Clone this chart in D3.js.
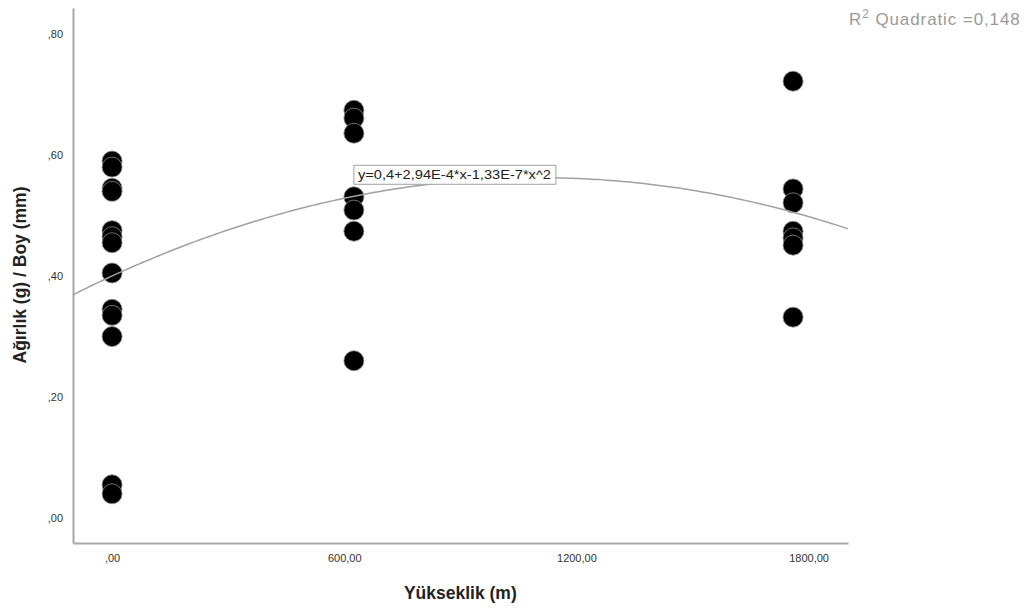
<!DOCTYPE html>
<html>
<head>
<meta charset="utf-8">
<script src="https://cdn.jsdelivr.net/npm/d3@7"></script>
<style>
  body { margin: 0; background: #fff; }
  text { font-family: "Liberation Sans", Arial, sans-serif; }
</style>
</head>
<body>
<div id="chart"></div>
<script>
var altitudes = [0, 625, 1760];
var ratios0 = [0.59, 0.58, 0.545, 0.54, 0.475, 0.465, 0.455, 0.405, 0.345, 0.335, 0.30, 0.055, 0.04];
var ratios625 = [0.674, 0.661, 0.636, 0.531, 0.509, 0.474, 0.26];
var ratios1760 = [0.722, 0.544, 0.521, 0.474, 0.463, 0.451, 0.332];

// quadratic fit  y = b0 + b1*x + b2*x^2
var fitCoef = [0.4, 2.94e-4, -1.33e-7];
var fitLabel = "y=0,4+2,94E-4*x-1,33E-7*x^2";
var r2Label = "0,148";

var xTicks = [0, 600, 1200, 1800];
var xTickLabels = [",00", "600,00", "1200,00", "1800,00"];
var yTicks = [0, 0.2, 0.4, 0.6, 0.8];
var yTickLabels = [",00", ",20", ",40", ",60", ",80"];

var width = 1036, height = 615;

var svg = d3.select("#chart").append("svg")
	.attr("width", width)
	.attr("height", height);

// Scales
var x = d3.scaleLinear()
	.domain([-101, 1902])
	.range([73, 848]);

var y = d3.scaleLinear()
	.domain([-0.0413, 0.843])
	.range([543, 8]);

// Axes
var xAxis = d3.axisBottom(x)
	.tickValues(xTicks)
	.tickSize(0)
	.tickPadding(11)
	.tickFormat(function (d, i) { return xTickLabels[i]; });

var yAxis = d3.axisLeft(y)
	.tickValues(yTicks)
	.tickSize(0)
	.tickPadding(10)
	.tickFormat(function (d, i) { return yTickLabels[i]; });

var gx = svg.append("g")
	.attr("transform", "translate(0,543)")
	.call(xAxis);

var gy = svg.append("g")
	.attr("transform", "translate(73,0)")
	.call(yAxis);

[gx, gy].forEach(function (g) {
	g.select(".domain").attr("stroke", "#a8a8a8").attr("stroke-width", 2);
	g.selectAll("text")
		.attr("fill", "#333")
		.style("font-size", "11px")
		.style("font-family", "'Liberation Sans', Arial, sans-serif");
});

// Points
var points = [];
[ratios0, ratios625, ratios1760].forEach(function (arr, i) {
	arr.forEach(function (v) { points.push({ alt: altitudes[i], val: v }); });
});

svg.append("g").selectAll("circle")
	.data(points)
	.enter()
	.append("circle")
	.attr("cx", function (d) { return x(d.alt); })
	.attr("cy", function (d) { return y(d.val); })
	.attr("r", 10)
	.attr("fill", "#000")
	.attr("stroke", "#8a8a8a")
	.attr("stroke-width", 0.8);

// Fit curve
var fit = function (a) { return fitCoef[0] + fitCoef[1] * a + fitCoef[2] * a * a; };
var xs = d3.range(x.domain()[0], x.domain()[1], 10).concat([x.domain()[1]]);

svg.append("path")
	.datum(xs)
	.attr("fill", "none")
	.attr("stroke", "#a0a0a0")
	.attr("stroke-width", 1.5)
	.attr("d", d3.line()
		.x(function (d) { return x(d); })
		.y(function (d) { return y(fit(d)); }));

// Equation label
var eq = svg.append("g").attr("transform", "translate(" + x(625) + "," + y(fit(625)) + ")");
eq.append("rect")
	.attr("x", 0)
	.attr("y", -31)
	.attr("width", 202)
	.attr("height", 19)
	.attr("fill", "#fff")
	.attr("stroke", "#a0a0a0")
	.attr("stroke-width", 1);
eq.append("text")
	.attr("x", 4)
	.attr("y", -17)
	.attr("textLength", 193)
	.attr("lengthAdjust", "spacingAndGlyphs")
	.style("font-size", "12px")
	.attr("fill", "#222")
	.text(fitLabel);

// R2 label
var r2 = svg.append("text")
	.attr("x", 849)
	.attr("y", 25)
	.attr("fill", "#9a9a9a")
	.style("font-size", "17px")
	.style("letter-spacing", "0.9px");
r2.append("tspan").text("R");
r2.append("tspan").attr("dy", -7).style("font-size", "12px").text("2");
r2.append("tspan").attr("dy", 7).text(" Quadratic =" + r2Label);

// Axis titles
svg.append("text")
	.attr("x", x(900))
	.attr("y", 599)
	.attr("text-anchor", "middle")
	.style("font-size", "17.5px")
	.style("font-weight", "bold")
	.attr("fill", "#222")
	.text("Yükseklik (m)");

svg.append("text")
	.attr("transform", "translate(26,275) rotate(-90)")
	.attr("text-anchor", "middle")
	.style("font-size", "17.5px")
	.style("font-weight", "bold")
	.attr("fill", "#222")
	.text("Ağırlık (g) / Boy (mm)");
</script>
</body>
</html>
